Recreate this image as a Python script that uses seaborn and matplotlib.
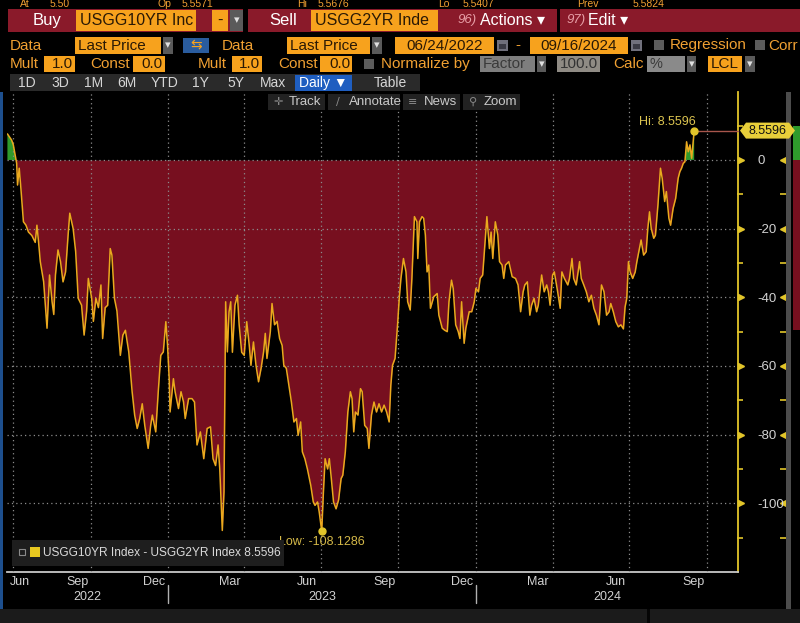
import numpy as np
import pandas as pd
import matplotlib
matplotlib.use("Agg")
import matplotlib.pyplot as plt
import matplotlib.dates as mdates
from matplotlib.patches import Rectangle, Polygon
import seaborn as sns

# ---------------- data ----------------
dates = [
    '2022-06-24', '2022-06-29', '2022-07-01', '2022-07-05', '2022-07-06', '2022-07-08', '2022-07-10',
    '2022-07-13', '2022-07-16', '2022-07-19', '2022-07-23', '2022-07-27', '2022-07-29', '2022-07-31',
    '2022-08-02', '2022-08-06', '2022-08-10', '2022-08-13', '2022-08-16', '2022-08-18', '2022-08-20',
    '2022-08-23', '2022-08-26', '2022-08-29', '2022-09-01', '2022-09-04', '2022-09-06', '2022-09-10',
    '2022-09-13', '2022-09-16', '2022-09-20', '2022-09-23', '2022-09-26', '2022-09-28', '2022-10-02',
    '2022-10-04', '2022-10-07', '2022-10-10', '2022-10-13', '2022-10-15', '2022-10-18', '2022-10-21',
    '2022-10-24', '2022-10-26', '2022-10-29', '2022-11-01', '2022-11-05', '2022-11-08', '2022-11-11',
    '2022-11-15', '2022-11-19', '2022-11-22', '2022-11-25', '2022-11-28', '2022-12-01', '2022-12-04',
    '2022-12-08', '2022-12-11', '2022-12-13', '2022-12-17', '2022-12-20', '2022-12-23', '2022-12-26',
    '2022-12-29', '2022-12-31',
    '2023-01-02', '2023-01-03', '2023-01-07', '2023-01-09', '2023-01-13', '2023-01-16', '2023-01-19',
    '2023-01-21', '2023-01-25', '2023-01-29', '2023-02-01', '2023-02-04', '2023-02-08', '2023-02-12',
    '2023-02-16', '2023-02-20', '2023-02-23', '2023-02-26', '2023-03-01', '2023-03-03', '2023-03-06',
    '2023-03-08', '2023-03-10', '2023-03-12', '2023-03-14', '2023-03-16', '2023-03-18', '2023-03-21',
    '2023-03-24', '2023-03-26', '2023-03-29', '2023-04-01', '2023-04-04', '2023-04-07', '2023-04-09',
    '2023-04-12', '2023-04-15', '2023-04-18', '2023-04-21', '2023-04-24', '2023-04-26', '2023-04-28',
    '2023-05-02', '2023-05-04', '2023-05-07', '2023-05-10', '2023-05-13', '2023-05-16', '2023-05-18',
    '2023-05-21', '2023-05-24', '2023-05-27', '2023-05-30', '2023-06-02', '2023-06-04', '2023-06-07',
    '2023-06-09', '2023-06-12', '2023-06-15', '2023-06-19', '2023-06-22', '2023-06-24', '2023-06-27',
    '2023-06-29', '2023-07-02', '2023-07-04', '2023-07-06', '2023-07-09', '2023-07-11', '2023-07-13',
    '2023-07-16', '2023-07-19', '2023-07-22', '2023-07-25', '2023-07-27', '2023-07-30', '2023-08-02',
    '2023-08-05', '2023-08-07', '2023-08-09', '2023-08-11', '2023-08-14', '2023-08-17', '2023-08-19',
    '2023-08-22', '2023-08-25', '2023-08-27', '2023-08-30', '2023-09-02', '2023-09-05', '2023-09-08',
    '2023-09-11', '2023-09-14', '2023-09-17', '2023-09-20', '2023-09-22', '2023-09-24', '2023-09-27',
    '2023-09-30', '2023-10-02', '2023-10-04', '2023-10-07', '2023-10-10', '2023-10-12', '2023-10-15',
    '2023-10-17', '2023-10-20', '2023-10-23', '2023-10-24', '2023-10-26', '2023-10-29', '2023-10-31',
    '2023-11-02', '2023-11-04', '2023-11-06', '2023-11-08', '2023-11-12', '2023-11-16', '2023-11-18',
    '2023-11-22', '2023-11-25', '2023-11-28', '2023-11-30', '2023-12-03', '2023-12-05', '2023-12-08',
    '2023-12-11', '2023-12-13', '2023-12-15', '2023-12-18', '2023-12-20', '2023-12-24', '2023-12-27',
    '2023-12-30',
    '2024-01-01', '2024-01-04', '2024-01-06', '2024-01-09', '2024-01-11', '2024-01-14', '2024-01-17',
    '2024-01-19', '2024-01-21', '2024-01-24', '2024-01-27', '2024-01-29', '2024-02-01', '2024-02-03',
    '2024-02-05', '2024-02-09', '2024-02-13', '2024-02-17', '2024-02-20', '2024-02-23', '2024-02-26',
    '2024-02-28', '2024-03-02', '2024-03-05', '2024-03-07', '2024-03-10', '2024-03-13', '2024-03-15',
    '2024-03-19', '2024-03-22', '2024-03-25', '2024-03-27', '2024-03-29', '2024-04-01', '2024-04-03',
    '2024-04-07', '2024-04-10', '2024-04-12', '2024-04-15', '2024-04-19', '2024-04-21', '2024-04-24',
    '2024-04-26', '2024-04-29', '2024-05-03', '2024-05-05', '2024-05-08', '2024-05-11', '2024-05-14',
    '2024-05-17', '2024-05-20', '2024-05-23', '2024-05-26', '2024-05-29', '2024-06-01', '2024-06-04',
    '2024-06-07', '2024-06-09', '2024-06-12', '2024-06-15', '2024-06-18', '2024-06-21', '2024-06-24',
    '2024-06-26', '2024-06-28', '2024-06-30', '2024-07-02', '2024-07-05', '2024-07-08', '2024-07-10',
    '2024-07-13', '2024-07-15', '2024-07-18', '2024-07-21', '2024-07-23', '2024-07-25', '2024-07-27',
    '2024-07-30', '2024-08-01', '2024-08-04', '2024-08-07', '2024-08-09', '2024-08-12', '2024-08-14',
    '2024-08-17', '2024-08-19', '2024-08-22', '2024-08-25', '2024-08-28', '2024-08-30', '2024-09-01',
    '2024-09-03', '2024-09-05', '2024-09-07', '2024-09-09', '2024-09-11', '2024-09-13', '2024-09-16',
]
values = [
    7.6, 5.8, 4.4, -1.0, -7.3, -2.4, -8.3,
    -18.0, -19.0, -21.0, -22.0, -24.0, -19.0, -24.0,
    -29.6, -35.5, -49.0, -33.5, -41.3, -45.0, -33.5,
    -26.2, -29.6, -35.5, -32.6, -21.9, -15.5, -20.0,
    -26.7, -40.3, -42.3, -51.0, -44.0, -34.5, -40.3,
    -47.0, -40.3, -43.0, -36.4, -52.0, -43.0, -42.3,
    -25.8, -27.7, -40.3, -44.0, -56.9, -51.0, -49.6,
    -55.9, -67.5, -74.3, -78.2, -75.3, -71.0, -77.3,
    -84.0, -77.3, -74.3, -79.2, -67.5, -56.9, -55.9,
    -47.1, -54.0,
    -63.7, -73.4, -63.7, -67.5, -72.4, -67.5, -70.5,
    -75.3, -69.5, -69.5, -70.5, -83.0, -79.2, -87.0,
    -78.2, -77.7, -87.0, -89.0, -83.0, -90.0, -107.9,
    -96.7, -41.3, -55.9, -44.2, -41.3, -56.0, -42.3,
    -39.4, -48.0, -56.0, -56.9, -47.1, -54.0, -59.8,
    -53.0, -59.8, -64.6, -60.7, -55.9, -50.5, -57.8,
    -50.0, -41.8, -48.0, -47.0, -52.0, -54.0, -59.8,
    -60.7, -65.6, -70.5, -76.3, -75.3, -80.2, -76.3,
    -85.0, -87.0, -90.0, -94.8, -99.6, -100.6, -99.6,
    -102.5, -108.1286, -96.7, -87.0, -90.0, -87.0, -91.8,
    -99.6, -101.6, -99.0, -92.8, -91.8, -85.0, -73.4,
    -67.5, -69.5, -79.2, -73.4, -74.3, -66.6, -67.5,
    -77.3, -78.2, -84.0, -74.3, -70.5, -73.4, -71.0,
    -73.4, -71.4, -73.4, -76.3, -65.6, -59.8, -57.8,
    -48.0, -40.3, -34.5, -28.7, -32.6, -41.3, -43.7,
    -34.5, -16.5, -18.0, -28.7, -18.0, -16.5, -17.0,
    -21.9, -32.6, -30.6, -43.2, -39.8, -38.9, -45.2,
    -49.0, -49.6, -50.0, -41.3, -35.0, -37.4, -48.0,
    -50.0, -52.0, -41.3, -53.4, -49.0, -44.2, -44.2,
    -41.3,
    -37.4, -38.4, -34.5, -33.5, -26.7, -16.5, -25.8,
    -21.0, -28.7, -18.0, -21.9, -29.6, -30.6, -34.5,
    -30.6, -29.6, -34.0, -34.5, -36.4, -44.2, -38.4,
    -36.4, -35.5, -45.2, -42.3, -40.3, -44.2, -42.3,
    -33.5, -38.4, -36.4, -38.4, -42.3, -33.5, -32.6,
    -38.4, -43.2, -32.6, -34.5, -36.4, -34.5, -28.7,
    -34.5, -36.4, -29.6, -34.5, -36.4, -38.4, -41.3,
    -39.4, -43.2, -45.2, -48.0, -36.4, -38.4, -45.2,
    -44.2, -41.8, -44.2, -47.1, -48.6, -48.0, -49.2,
    -42.8, -40.3, -29.6, -32.6, -34.5, -32.6, -29.6,
    -25.8, -23.3, -27.7, -26.7, -19.9, -15.1, -19.9,
    -22.8, -21.9, -13.1, -2.4, -5.3, -12.1, -9.2,
    -17.0, -19.0, -14.1, -11.2, -5.3, -3.4, -2.4,
    -1.0, -0.5, 5.3, 2.4, 4.4, 0.5, 8.5596,
]
series_label = "USGG10YR Index - USGG2YR Index"
y_ticks = [0, -20, -40, -60, -80, -100]
y_minor = [10, -10, -30, -50, -70, -90, -110]
month_labels = ['Jun', 'Sep', 'Dec', 'Mar', 'Jun', 'Sep', 'Dec', 'Mar', 'Jun', 'Sep']
label_dates = ['2022-06-15', '2022-09-15', '2022-12-15', '2023-03-15', '2023-06-15',
               '2023-09-15', '2023-12-15', '2024-03-15', '2024-06-15', '2024-09-15']
grid_dates = ['2022-07-01', '2022-10-01', '2023-01-01', '2023-04-01', '2023-07-01',
              '2023-10-01', '2024-01-01', '2024-04-01', '2024-07-01', '2024-10-01']
years = ['2022', '2023', '2024']
x_start, x_end = '2022-06-23 12:00', '2024-11-07'

# ---------------- style ----------------
sns.set_theme(style="dark", rc={"axes.facecolor": "black", "figure.facecolor": "black",
                                "axes.unicode_minus": False})
plt.rcParams['font.family'] = ['Liberation Sans', 'DejaVu Sans']
plt.rcParams['axes.unicode_minus'] = False

W, H = 800, 623
RED = '#770f1f'
GREEN = '#2f9a2c'
LINE = '#eaa91e'
YEL = '#e2c52a'
ORANGE = '#f7a21d'
OTXT = '#f0a032'
DARKTXT = '#2a1905'
BARRED = '#8a1a2a'
GRID = '#8c8c8c'
LBL = '#d2d2d2'

fig = plt.figure(figsize=(W / 100, H / 100), dpi=100, facecolor='black')
ax = fig.add_axes([7 / W, 1 - 572 / H, (738 - 7) / W, (572 - 92) / H])
ax.set_facecolor('black')

df = pd.DataFrame({'date': pd.to_datetime(dates), 'value': values})
sns.lineplot(data=df, x='date', y='value', ax=ax, color=LINE, lw=1.1, zorder=3)
ax.fill_between(df['date'], df['value'], 0, where=df['value'] < 0, interpolate=True,
                color=RED, lw=0, zorder=1)
ax.fill_between(df['date'], df['value'], 0, where=df['value'] > 0, interpolate=True,
                color=GREEN, lw=0, zorder=1)

xl0, xl1 = pd.Timestamp(x_start), pd.Timestamp(x_end)
ax.set_xlim(xl0, xl1)
ax.set_ylim(-120, 19.8)
ax.set_xlabel('')
ax.set_ylabel('')

# grid / ticks
ax.set_axisbelow(False)
ax.set_xticks(pd.to_datetime(grid_dates))
ax.set_xticklabels([])
ax.xaxis.set_minor_locator(mdates.MonthLocator())
ax.grid(True, which='major', color=GRID, ls=(0, (1, 2.5)), lw=0.9)
ax.tick_params(axis='x', which='major', direction='inout', length=7, width=1, color='#c8c8c8')
ax.tick_params(axis='x', which='minor', direction='inout', length=4, width=1, color='#c8c8c8')
ax.yaxis.tick_right()
ax.set_yticks(y_ticks)
ax.set_yticklabels([str(t) for t in y_ticks])
ax.tick_params(axis='y', length=0, pad=14, labelcolor=LBL, labelsize=9.5)
for s in ['top', 'left']:
    ax.spines[s].set_visible(False)
ax.spines['bottom'].set_color('#c8c8c8')
ax.spines['bottom'].set_linewidth(1.3)
ax.spines['right'].set_color(YEL)
ax.spines['right'].set_linewidth(1.3)

ytr = ax.get_yaxis_transform()
ax.plot([1.004] * len(y_ticks), y_ticks, ls='none', marker='>', ms=4.5, color=YEL,
        transform=ytr, clip_on=False)
ax.plot([1.061] * len(y_ticks), y_ticks, ls='none', marker='<', ms=4.5, color=YEL,
        transform=ytr, clip_on=False)
ax.plot([1.003] * len(y_minor), y_minor, ls='none', marker='_', ms=5, mew=1.2, color=YEL,
        transform=ytr, clip_on=False)
ax.plot([1.062] * len(y_minor), y_minor, ls='none', marker='_', ms=5, mew=1.2, color=YEL,
        transform=ytr, clip_on=False)

# month labels
n0, n1 = mdates.date2num(xl0), mdates.date2num(xl1)
for lab, d in zip(month_labels, label_dates):
    xf = (mdates.date2num(pd.Timestamp(d)) - n0) / (n1 - n0)
    xf = max(xf, 0.017)
    ax.text(xf, -0.021, lab, transform=ax.transAxes, ha='center', va='center',
            color=LBL, fontsize=9)
# year labels centred on visible span, separators at year starts
for yr in years:
    a = max(mdates.date2num(pd.Timestamp(f'{yr}-01-01')), n0)
    b = min(mdates.date2num(pd.Timestamp(f'{int(yr) + 1}-01-01')), n1)
    ax.text(((a + b) / 2 - n0) / (n1 - n0), -0.052, yr, transform=ax.transAxes,
            ha='center', va='center', color=LBL, fontsize=9)
    if a > n0:
        ax.plot([a, a], [-0.027, -0.064], transform=ax.get_xaxis_transform(),
                clip_on=False, color='#b0b0b0', lw=1)

# Hi / Low annotations
vals = df['value'].values
i_hi, i_lo = int(np.argmax(vals)), int(np.argmin(vals))
d_hi, v_hi = df['date'].iloc[i_hi], vals[i_hi]
d_lo, v_lo = df['date'].iloc[i_lo], vals[i_lo]
ax.plot([d_hi, xl1], [v_hi, v_hi], color='#a8564c', lw=1, zorder=4, clip_on=False)
ax.plot([d_hi], [v_hi], 'o', color=YEL, ms=5, zorder=5)
ax.plot([d_lo], [v_lo], 'o', color=YEL, ms=5, zorder=5)
ax.annotate(f"Hi: {v_hi:.4f}", (d_hi, v_hi), xytext=(1, 6.5), textcoords='offset points',
            ha='right', va='center', color='#dcc450', fontsize=9, zorder=6)
ax.annotate(f"Low: {v_lo:.4f}", (d_lo, v_lo), xytext=(0, -7.5), textcoords='offset points',
            ha='center', va='center', color='#d4b848', fontsize=9, zorder=6)


# ---------------- UI chrome helpers (pixel layout) ----------------
def rect(x0, y0, x1, y1, color, z=5, ec='none', lw=0):
    fig.add_artist(Rectangle((x0 / W, 1 - y1 / H), (x1 - x0) / W, (y1 - y0) / H,
                             transform=fig.transFigure, facecolor=color, edgecolor=ec,
                             lw=lw, zorder=z))


def label(x, y, s, color, size, ha='left', z=8, **kw):
    fig.text(x / W, 1 - y / H, s, color=color, fontsize=size, ha=ha, va='center',
             zorder=z, **kw)


def dropdown(x0, x1, y0, y1):
    rect(x0, y0, x1, y1, '#5a5a5a')
    label((x0 + x1) / 2, (y0 + y1) / 2, '\u25be', '#e0e0e0', 8, ha='center',
          family=['DejaVu Sans'])


def checkbox(x0, y0):
    rect(x0, y0, x0 + 10, y0 + 10, '#5c5c5c')


def calendar(x0, y0):
    rect(x0, y0, x0 + 11, y0 + 11, '#70707c')
    rect(x0 + 2, y0 + 4, x0 + 9, y0 + 9, '#3a3a44', z=6)


# Hi value tag on right axis
_, yd = ax.transData.transform((mdates.date2num(d_hi), v_hi))
yc = H - yd
tag = [(740, yc), (746, yc - 8), (789, yc - 8), (795, yc), (789, yc + 8), (746, yc + 8)]
fig.add_artist(Polygon([(px / W, 1 - py / H) for px, py in tag], closed=True,
                       transform=fig.transFigure, facecolor='#e8cf3a', edgecolor='none', zorder=7))
label(767.5, yc, f"{vals[-1]:.4f}", '#111111', 9, ha='center')

# right-hand panel slice
rect(786, 92, 791, 612, '#4c4c4c', z=4)
rect(793, 126, 800, 160, GREEN, z=4)
rect(793, 160, 800, 330, RED, z=4)
# left blue edge
rect(0, 92, 3, 610, '#1d4f8e', z=4)
# bottom bar
rect(0, 609, 800, 623, '#1b1b1b', z=4)
rect(647, 609, 650, 623, '#050505', z=5)

# legend box
rect(12, 540, 284, 566, '#1e1e1e', z=6)
rect(19, 549, 25, 555, '#1e1e1e', z=7, ec='#8a8a8a', lw=0.8)
rect(30, 547, 40, 557, '#e8c820', z=7)
label(43, 552.5, f"{series_label} {vals[-1]:.4f}", '#dadada', 8.6, z=8)

# top status row
for x, s in [(20, 'At'), (50, '5.50'), (157, 'Op'), (182, '5.5571'), (297, 'Hi'),
             (318, '5.5676'), (438, 'Lo'), (463, '5.5407'), (577, 'Prev'), (633, '5.5824')]:
    label(x, 4.2, s, OTXT, 7.5)

# row 1 : buy / sell bar
rect(8, 9, 800, 32, BARRED)
rect(243, 9, 248, 32, 'black', z=6)
rect(557, 9, 560, 32, 'black', z=6)
label(47, 20.5, 'Buy', 'white', 12, ha='center')
rect(76, 10, 196, 31, ORANGE, z=6)
label(80, 20.5, 'USGG10YR Inc', DARKTXT, 11.5, z=8)
rect(212, 10, 228, 31, ORANGE, z=6)
label(220, 20.5, '-', DARKTXT, 12, ha='center')
rect(230, 10, 243, 31, '#5a5a5a', z=6)
label(236.5, 20.5, '\u25be', '#e0e0e0', 8, ha='center', family=['DejaVu Sans'])
label(283, 20.5, 'Sell', 'white', 12, ha='center')
rect(311, 10, 438, 31, ORANGE, z=6)
label(315, 20.5, 'USGG2YR Inde', DARKTXT, 11.5)
label(458, 20.5, '96)', '#e8a0a8', 9.5, style='italic')
label(480, 20.5, 'Actions \u25be', 'white', 11.5, family=['Liberation Sans', 'DejaVu Sans'])
label(567, 20.5, '97)', '#e8a0a8', 9.5, style='italic')
label(588, 20.5, 'Edit \u25be', 'white', 11.5, family=['Liberation Sans', 'DejaVu Sans'])

# row 2
cy = 45.5
label(10, cy, 'Data', OTXT, 11)
rect(75, 37, 161, 54, ORANGE)
label(78, cy, 'Last Price', DARKTXT, 11)
dropdown(163, 173, 37, 54)
rect(183, 38, 209, 53, '#2a5c9e')
label(196, cy, '\u21c6', ORANGE, 10, ha='center', family=['DejaVu Sans'])
label(222, cy, 'Data', OTXT, 11)
rect(287, 37, 370, 54, ORANGE)
label(290, cy, 'Last Price', DARKTXT, 11)
dropdown(372, 382, 37, 54)
rect(395, 37, 494, 54, ORANGE)
label(444.5, cy, '06/24/2022', DARKTXT, 11, ha='center')
calendar(497, 40)
label(518, cy, '-', OTXT, 11, ha='center')
rect(530, 37, 628, 54, ORANGE)
label(579, cy, '09/16/2024', DARKTXT, 11, ha='center')
calendar(631, 40)
checkbox(654, 40)
label(670, cy, 'Regression', OTXT, 11)
checkbox(755, 40)
label(768, cy, 'Corr', OTXT, 11)

# row 3
cy = 64
label(10, cy, 'Mult', OTXT, 11)
rect(44, 56, 75, 72, ORANGE)
label(73, cy, '1.0', DARKTXT, 11, ha='right')
label(90, cy, 'Const', OTXT, 11)
rect(133, 56, 165, 72, ORANGE)
label(163, cy, '0.0', DARKTXT, 11, ha='right')
label(198, cy, 'Mult', OTXT, 11)
rect(232, 56, 262, 72, ORANGE)
label(260, cy, '1.0', DARKTXT, 11, ha='right')
label(278, cy, 'Const', OTXT, 11)
rect(320, 56, 352, 72, ORANGE)
label(350, cy, '0.0', DARKTXT, 11, ha='right')
checkbox(364, 59)
label(381, cy, 'Normalize by', OTXT, 11)
rect(480, 56, 535, 72, '#7e7e7e')
label(483, cy, 'Factor', '#3a3a3a', 11)
dropdown(537, 546, 56, 72)
rect(557, 56, 600, 72, '#8f8b84')
label(598, cy, '100.0', '#333333', 11, ha='right')
label(613, cy, 'Calc', OTXT, 11)
rect(647, 56, 685, 72, '#8a8a8a')
label(650, cy, '%', '#3a3a3a', 10.5)
dropdown(687, 696, 56, 72)
rect(708, 56, 742, 72, ORANGE)
label(711, cy, 'LCL', DARKTXT, 11)
dropdown(745, 755, 56, 72)

# row 4 : range buttons
cy = 83
rect(10, 74, 420, 91, '#2a2a2a')
for x, s in [(27, '1D'), (60, '3D'), (94, '1M'), (127, '6M'), (165, 'YTD'),
             (200, '1Y'), (236, '5Y'), (273, 'Max')]:
    label(x, cy, s, '#d6d6d6', 10, ha='center')
rect(295, 75, 352, 91, '#1f5ec0', z=6)
label(323.5, cy, 'Daily \u25bc', 'white', 10, ha='center', family=['Liberation Sans', 'DejaVu Sans'])
label(390, cy, 'Table', '#d6d6d6', 10, ha='center')

# row 5 : chart tool buttons (over the plot)
cy = 102
for x0, x1, icon, s in [(268, 325, '\u271b', 'Track'), (328, 400, '\u2215', 'Annotate'),
                        (403, 460, '\u2261', 'News'), (463, 520, '\u26b2', 'Zoom')]:
    rect(x0, 94, x1, 110, '#222222', z=6)
    label(x0 + 10, cy, icon, '#8a8a8a', 8, ha='center', family=['DejaVu Sans'])
    label(x0 + 21, cy, s, '#cacaca', 9.5)

fig.savefig('out.png', dpi=100, facecolor='black')
